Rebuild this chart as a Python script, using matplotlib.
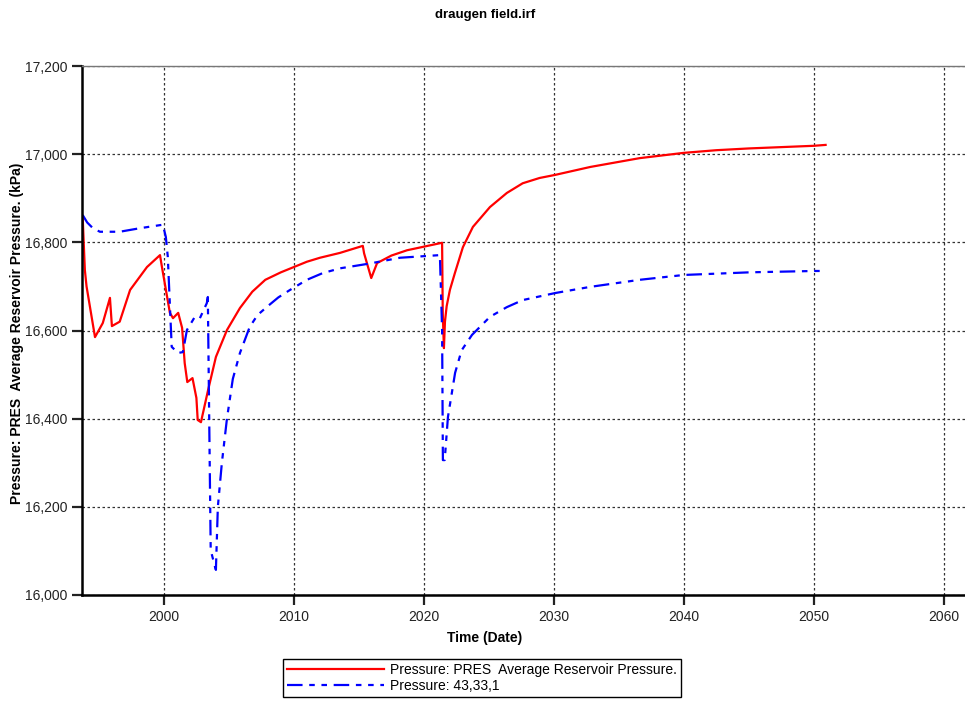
import matplotlib.pyplot as plt
from matplotlib.ticker import FuncFormatter, MultipleLocator

plt.rcParams['font.family'] = ['Liberation Sans', 'DejaVu Sans']

# red: average reservoir pressure (kPa)
red_years = [1993.75, 1993.92, 1994.05, 1994.7, 1995.3, 1995.85, 1996.0, 1996.6,
             1997.4, 1998.7, 1999.7, 1999.85, 2000.46, 2000.7, 2001.1, 2001.4,
             2001.6, 2001.8, 2002.2, 2002.5, 2002.6, 2002.85, 2003.4, 2004.0,
             2004.85, 2005.85, 2006.8, 2007.8, 2009.0, 2010.0, 2011.0, 2012.0,
             2013.54, 2015.3, 2015.4, 2015.95, 2016.4, 2017.5, 2018.7, 2021.4,
             2021.45, 2021.54, 2021.62, 2021.75, 2022.0, 2022.38, 2023.0, 2023.77,
             2025.08, 2026.38, 2027.6, 2028.9, 2030.1, 2032.8, 2036.6, 2040.0,
             2042.5, 2045.0, 2047.5, 2050.0, 2050.9]
red_kpa = [16858, 16737, 16700, 16585, 16617, 16674, 16610, 16620,
           16692, 16744, 16771, 16744, 16640, 16628, 16640, 16606,
           16526, 16483, 16492, 16447, 16397, 16392, 16465, 16540,
           16601, 16651, 16688, 16715, 16732, 16744, 16756, 16765,
           16776, 16792, 16775, 16719, 16753, 16770, 16782, 16799,
           16640, 16560, 16620, 16655, 16692, 16730, 16789, 16835,
           16880, 16912, 16934, 16946, 16953, 16971, 16991, 17003,
           17009, 17013, 17016, 17019, 17021]

# blue: block 43,33,1 pressure (kPa)
blue_years = [1993.75, 1994.1, 1994.54, 1995.08, 1996.6, 1998.15, 1999.92, 2000.15,
              2000.3, 2000.6, 2001.08, 2001.46, 2001.77, 2002.38, 2002.77, 2003.3,
              2003.38, 2003.46, 2003.6, 2003.92, 2004.0, 2004.15, 2004.46, 2004.85,
              2005.3, 2005.85, 2006.6, 2007.2, 2007.9, 2008.8, 2009.7, 2011.0,
              2012.2, 2013.54, 2015.85, 2018.15, 2021.23, 2021.4, 2021.46, 2021.6,
              2021.85, 2022.4, 2022.9, 2023.7, 2025.08, 2026.38, 2027.6, 2030.1,
              2032.8, 2036.6, 2040.0, 2045.1, 2050.0, 2050.9]
blue_kpa = [16862, 16845, 16832, 16824, 16824, 16832, 16840, 16812,
            16767, 16563, 16549, 16551, 16601, 16631, 16628, 16662,
            16676, 16465, 16102, 16065, 16057, 16200, 16300, 16400,
            16490, 16549, 16608, 16635, 16653, 16675, 16692, 16715,
            16730, 16741, 16752, 16765, 16771, 16601, 16306, 16306,
            16404, 16504, 16555, 16590, 16631, 16653, 16669, 16685,
            16699, 16715, 16726, 16732, 16735, 16735]

fig = plt.figure(figsize=(9.65, 7.04), dpi=100)
ax = fig.add_axes([82 / 965, 1 - 595 / 704, 1 - 82 / 965, (595 - 66) / 704])

ax.plot(red_years, red_kpa, color='#ff0000', lw=1.6,
        label='Pressure: PRES  Average Reservoir Pressure.')
ax.plot(blue_years, blue_kpa, color='#0000ff', lw=1.6,
        linestyle=(0, (7, 3, 2.5, 3, 2.5, 3)), label='Pressure: 43,33,1')

ax.set_xlim(1993.7, 1993.7 + 883 / 13.0)
ax.set_ylim(16000, 17200)
ax.xaxis.set_major_locator(MultipleLocator(10))
ax.yaxis.set_major_locator(MultipleLocator(200))
ax.yaxis.set_major_formatter(FuncFormatter(lambda v, p: f"{int(v):,}"))

ax.grid(True, color='#333333', linestyle=(0, (2, 2)), linewidth=0.9)
ax.tick_params(direction='out', length=7, width=1.6, labelsize=10, colors='#222222')

for side in ['left', 'bottom']:
    ax.spines[side].set_linewidth(1.8)
    ax.spines[side].set_color('black')
ax.spines['top'].set_color('#777777')
ax.spines['top'].set_linewidth(1.0)
ax.spines['right'].set_visible(False)

fig.text(485 / 965, 1 - 15 / 704, 'draugen field.irf', ha='center', va='center',
         fontsize=9.5, fontweight='bold')
fig.text(485 / 965, 1 - 638 / 704, 'Time (Date)', ha='center', va='center',
         fontsize=10, fontweight='bold')
fig.text(17 / 965, 1 - 333 / 704, 'Pressure: PRES  Average Reservoir Pressure. (kPa)',
         ha='center', va='center', rotation=90, fontsize=10, fontweight='bold')

leg = fig.legend(loc='upper left', bbox_to_anchor=(283 / 965, 1 - 659 / 704),
                 borderaxespad=0, fancybox=False, edgecolor='black', framealpha=1,
                 fontsize=10, handlelength=7, handletextpad=0.4, labelspacing=0.15,
                 borderpad=0.3)
leg.get_frame().set_linewidth(1.0)

fig.savefig('out.png', dpi=100)
